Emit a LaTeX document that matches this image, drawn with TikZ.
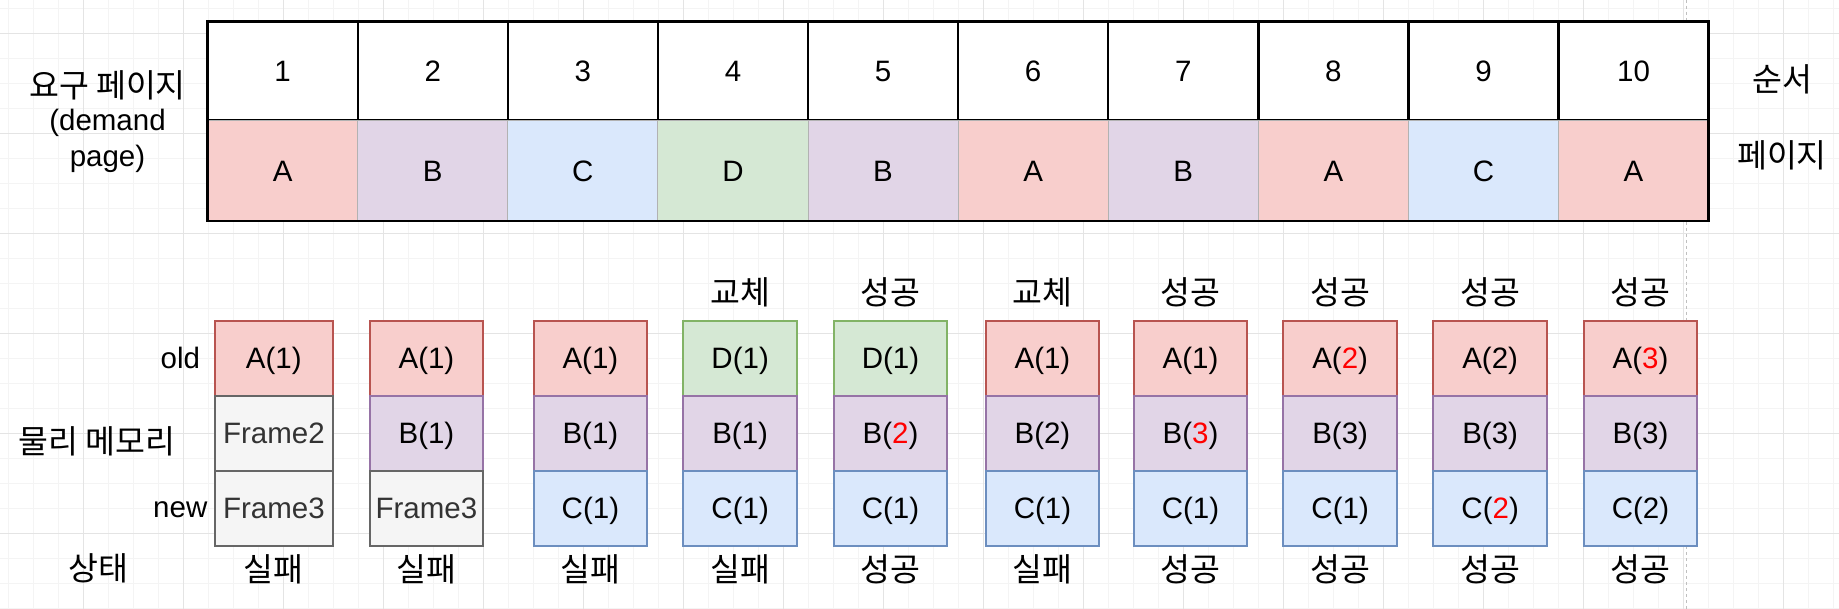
\documentclass[tikz,border=0pt]{standalone}
\usepackage{fontspec}
\setmainfont{Liberation Sans}
\newfontfamily\krfont{Noto Sans CJK KR}
\usetikzlibrary{positioning}
\definecolor{pgred}{HTML}{F8CECC}
\definecolor{pgredline}{HTML}{B85450}
\definecolor{pgpur}{HTML}{E1D5E7}
\definecolor{pgpurline}{HTML}{9673A6}
\definecolor{pgblu}{HTML}{DAE8FC}
\definecolor{pgbluline}{HTML}{6C8EBF}
\definecolor{pggrn}{HTML}{D5E8D4}
\definecolor{pggrnline}{HTML}{82B366}
\definecolor{pggry}{HTML}{F5F5F5}
\definecolor{pggryline}{HTML}{666666}
\definecolor{frtext}{HTML}{333333}
\definecolor{hitred}{HTML}{FF0000}
\definecolor{gridmajor}{HTML}{E4E4E4}
\definecolor{gridminor}{HTML}{F4F4F4}
\newcommand{\bigfont}{\fontsize{29.5}{36}\selectfont}
\newcommand{\krbig}{\krfont\fontsize{32.5}{36}\selectfont}
\newcommand{\hit}[1]{\textcolor{hitred}{#1}}

\begin{document}
\begin{tikzpicture}[x=1pt, y=-1pt,
  txt/.style={font=\bigfont, text height=28pt, text depth=7.4pt, inner sep=0pt, outer sep=0pt},
  krtxt/.style={txt, font=\krbig},
  ordcell/.style={txt, draw=black, line width=2.4pt, fill=white, minimum width=150.1, minimum height=99},
  pgcell/.style={txt, draw=gray!60, line width=1pt, minimum width=150.1, minimum height=100.5},
  frcell/.style={txt, line width=2pt, minimum width=113.5, minimum height=75.2},
  fred/.style={fill=pgred, draw=pgredline},
  fpur/.style={fill=pgpur, draw=pgpurline},
  fblu/.style={fill=pgblu, draw=pgbluline},
  fgrn/.style={fill=pggrn, draw=pggrnline},
  fgry/.style={fill=pggry, draw=pggryline, text=frtext}
]
  \useasboundingbox (0,0) rectangle (1839,609);
  % background grid and page break
  \fill[white] (0,0) rectangle (1839,609);
  \foreach \gx in {8.33,33.33,...,1839} \draw[gridminor, line width=1pt] (\gx,0) -- (\gx,609);
  \foreach \gy in {8.33,33.33,...,609} \draw[gridminor, line width=1pt] (0,\gy) -- (1839,\gy);
  \foreach \gx in {83.33,183.33,...,1839} \draw[gridmajor, line width=1pt] (\gx,0) -- (\gx,609);
  \foreach \gy in {33.33,133.33,...,609} \draw[gridmajor, line width=1pt] (0,\gy) -- (1839,\gy);
  \draw[gray!50, line width=1pt, dash pattern=on 3pt off 3pt] (1686,0) -- (1686,609);

  % demand page table
  \node[ordcell] (ord1) at (282.65, 71) {1};
  \node[ordcell, right=0pt of ord1] (ord2) {2};
  \node[ordcell, right=0pt of ord2] (ord3) {3};
  \node[ordcell, right=0pt of ord3] (ord4) {4};
  \node[ordcell, right=0pt of ord4] (ord5) {5};
  \node[ordcell, right=0pt of ord5] (ord6) {6};
  \node[ordcell, right=0pt of ord6] (ord7) {7};
  \node[ordcell, right=0pt of ord7] (ord8) {8};
  \node[ordcell, right=0pt of ord8] (ord9) {9};
  \node[ordcell, right=0pt of ord9] (ord10) {10};
  \node[pgcell, fill=pgred, below=0pt of ord1] (pg1) {A};
  \node[pgcell, fill=pgpur, below=0pt of ord2] (pg2) {B};
  \node[pgcell, fill=pgblu, below=0pt of ord3] (pg3) {C};
  \node[pgcell, fill=pggrn, below=0pt of ord4] (pg4) {D};
  \node[pgcell, fill=pgpur, below=0pt of ord5] (pg5) {B};
  \node[pgcell, fill=pgred, below=0pt of ord6] (pg6) {A};
  \node[pgcell, fill=pgpur, below=0pt of ord7] (pg7) {B};
  \node[pgcell, fill=pgred, below=0pt of ord8] (pg8) {A};
  \node[pgcell, fill=pgblu, below=0pt of ord9] (pg9) {C};
  \node[pgcell, fill=pgred, below=0pt of ord10] (pg10) {A};
  \draw[black, line width=2.4pt] (ord1.north west) rectangle (pg10.south east);

  \node[txt, align=center, text height=, text depth=] (demand) at (107.5, 121.5)
    {{\krbig 요구 페이지}\\[-2.5pt](demand\\page)};
  \node[krtxt] (ordlbl) at (1782, 81.7) {순서};
  \node[krtxt] (pglbl) at (1782, 157.5) {페이지};

  % physical memory frames
  \node[txt] (oldlbl) at (180.3, 358.3) {old};
  \node[txt] (newlbl) at (180.3, 506.7) {new};
  \node[krtxt] (memlbl) at (96.9, 443.3) {물리 메모리};
  \node[krtxt] (statelbl) at (98, 570) {상태};

  \node[frcell, fred, minimum width=118.5] (s1a) at (273.85, 358.2) {A(1)};
  \node[frcell, fgry, minimum width=118.5, below=0pt of s1a] (s1b) {Frame2};
  \node[frcell, fgry, minimum width=118.5, below=0pt of s1b] (s1c) {Frame3};

  \node[frcell, fred] (s2a) at (426.45, 358.2) {A(1)};
  \node[frcell, fpur, below=0pt of s2a] (s2b) {B(1)};
  \node[frcell, fgry, below=0pt of s2b] (s2c) {Frame3};

  \node[frcell, fred] (s3a) at (590.4, 358.2) {A(1)};
  \node[frcell, fpur, below=0pt of s3a] (s3b) {B(1)};
  \node[frcell, fblu, below=0pt of s3b] (s3c) {C(1)};

  \node[frcell, fgrn] (s4a) at (740.15, 358.2) {D(1)};
  \node[frcell, fpur, below=0pt of s4a] (s4b) {B(1)};
  \node[frcell, fblu, below=0pt of s4b] (s4c) {C(1)};

  \node[frcell, fgrn] (s5a) at (890.45, 358.2) {D(1)};
  \node[frcell, fpur, below=0pt of s5a] (s5b) {B(\hit{2})};
  \node[frcell, fblu, below=0pt of s5b] (s5c) {C(1)};

  \node[frcell, fred] (s6a) at (1042.45, 358.2) {A(1)};
  \node[frcell, fpur, below=0pt of s6a] (s6b) {B(2)};
  \node[frcell, fblu, below=0pt of s6b] (s6c) {C(1)};

  \node[frcell, fred] (s7a) at (1190.5, 358.2) {A(1)};
  \node[frcell, fpur, below=0pt of s7a] (s7b) {B(\hit{3})};
  \node[frcell, fblu, below=0pt of s7b] (s7c) {C(1)};

  \node[frcell, fred] (s8a) at (1340.15, 358.2) {A(\hit{2})};
  \node[frcell, fpur, below=0pt of s8a] (s8b) {B(3)};
  \node[frcell, fblu, below=0pt of s8b] (s8c) {C(1)};

  \node[frcell, fred] (s9a) at (1490.15, 358.2) {A(2)};
  \node[frcell, fpur, below=0pt of s9a] (s9b) {B(3)};
  \node[frcell, fblu, below=0pt of s9b] (s9c) {C(\hit{2})};

  \node[frcell, fred] (s10a) at (1640.5, 358.2) {A(\hit{3})};
  \node[frcell, fpur, below=0pt of s10a] (s10b) {B(3)};
  \node[frcell, fblu, below=0pt of s10b] (s10c) {C(2)};

  % replace / hit marks above
  \node[krtxt] (ev4) at (740.15, 294.5) {교체};
  \node[krtxt] (ev5) at (890.45, 294.5) {성공};
  \node[krtxt] (ev6) at (1042.45, 294.5) {교체};
  \node[krtxt] (ev7) at (1190.5, 294.5) {성공};
  \node[krtxt] (ev8) at (1340.15, 294.5) {성공};
  \node[krtxt] (ev9) at (1490.15, 294.5) {성공};
  \node[krtxt] (ev10) at (1640.5, 294.5) {성공};

  % fault state below
  \node[krtxt] (st1) at (273.85, 571.5) {실패};
  \node[krtxt] (st2) at (426.45, 571.5) {실패};
  \node[krtxt] (st3) at (590.4, 571.5) {실패};
  \node[krtxt] (st4) at (740.15, 571.5) {실패};
  \node[krtxt] (st5) at (890.45, 571.5) {성공};
  \node[krtxt] (st6) at (1042.45, 571.5) {실패};
  \node[krtxt] (st7) at (1190.5, 571.5) {성공};
  \node[krtxt] (st8) at (1340.15, 571.5) {성공};
  \node[krtxt] (st9) at (1490.15, 571.5) {성공};
  \node[krtxt] (st10) at (1640.5, 571.5) {성공};
\end{tikzpicture}
\end{document}
